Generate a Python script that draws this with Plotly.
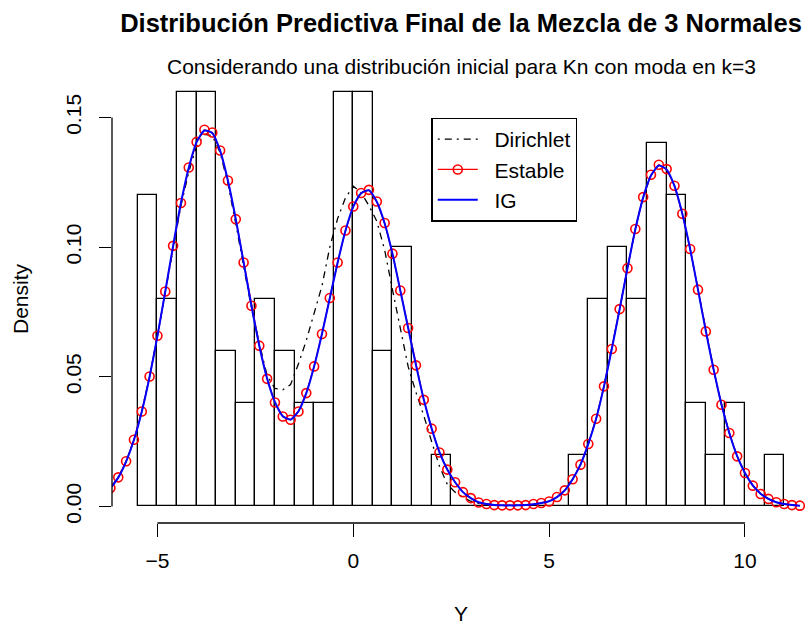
import plotly.graph_objects as go

# ---------------- data ----------------
breaks = [-5.5, -5.0, -4.5, -4.0, -3.5, -3.0, -2.5, -2.0, -1.5, -1.0, -0.5, 0.0,
          0.5, 1.0, 1.5, 2.0, 2.5, 3.0, 3.5, 4.0, 4.5, 5.0, 5.5, 6.0, 6.5, 7.0,
          7.5, 8.0, 8.5, 9.0, 9.5, 10.0, 10.5, 11.0]
hist_density = [0.12, 0.08, 0.16, 0.16, 0.06, 0.04, 0.08, 0.06, 0.04, 0.04, 0.16,
                0.16, 0.06, 0.10, 0.00, 0.02, 0.00, 0.00, 0.00, 0.00, 0.00, 0.00,
                0.02, 0.08, 0.10, 0.08, 0.14, 0.12, 0.04, 0.02, 0.04, 0.00, 0.02]

grid_x = [-6.2, -6.0, -5.8, -5.6, -5.4, -5.2, -5.0, -4.8, -4.6, -4.4, -4.2, -4.0,
          -3.8, -3.6, -3.4, -3.2, -3.0, -2.8, -2.6, -2.4, -2.2, -2.0, -1.8, -1.6,
          -1.4, -1.2, -1.0, -0.8, -0.6, -0.4, -0.2, 0.0, 0.2, 0.4, 0.6, 0.8,
          1.0, 1.2, 1.4, 1.6, 1.8, 2.0, 2.2, 2.4, 2.6, 2.8, 3.0, 3.2,
          3.4, 3.6, 3.8, 4.0, 4.2, 4.4, 4.6, 4.8, 5.0, 5.2, 5.4, 5.6,
          5.8, 6.0, 6.2, 6.4, 6.6, 6.8, 7.0, 7.2, 7.4, 7.6, 7.8, 8.0,
          8.2, 8.4, 8.6, 8.8, 9.0, 9.2, 9.4, 9.6, 9.8, 10.0, 10.2, 10.4,
          10.6, 10.8, 11.0, 11.2, 11.4]

estable = [0.0071, 0.0112, 0.0174, 0.0257, 0.0366, 0.0501, 0.0658, 0.0829, 0.1005, 0.1170, 0.1307, 0.1406,
           0.1453, 0.1442, 0.1373, 0.1257, 0.1108, 0.0941, 0.0774, 0.0620, 0.0492, 0.0401, 0.0347, 0.0334,
           0.0366, 0.0437, 0.0540, 0.0665, 0.0804, 0.0941, 0.1064, 0.1157, 0.1209, 0.1221, 0.1176, 0.1093,
           0.0975, 0.0833, 0.0688, 0.0544, 0.0411, 0.0300, 0.0208, 0.0142, 0.0093, 0.0055, 0.0032, 0.0015,
           0.0009, 0.0005, 0.0004, 0.0004, 0.0004, 0.0005, 0.0009, 0.0013, 0.0019, 0.0036, 0.0062, 0.0105,
           0.0161, 0.0241, 0.0338, 0.0463, 0.0607, 0.0761, 0.0919, 0.1070, 0.1193, 0.1279, 0.1318, 0.1301,
           0.1237, 0.1129, 0.0993, 0.0836, 0.0675, 0.0527, 0.0392, 0.0283, 0.0193, 0.0129, 0.0080, 0.0048,
           0.0029, 0.0016, 0.0009, 0.0005, 0.0003]

ig = [0.0070, 0.0111, 0.0173, 0.0256, 0.0365, 0.0500, 0.0657, 0.0829, 0.1005, 0.1170, 0.1306, 0.1405,
      0.1450, 0.1440, 0.1372, 0.1256, 0.1108, 0.0941, 0.0774, 0.0620, 0.0493, 0.0402, 0.0348, 0.0335,
      0.0367, 0.0437, 0.0540, 0.0665, 0.0803, 0.0940, 0.1063, 0.1156, 0.1208, 0.1219, 0.1175, 0.1092,
      0.0975, 0.0833, 0.0688, 0.0545, 0.0412, 0.0301, 0.0209, 0.0142, 0.0093, 0.0055, 0.0032, 0.0016,
      0.0009, 0.0005, 0.0004, 0.0004, 0.0004, 0.0005, 0.0008, 0.0013, 0.0020, 0.0036, 0.0062, 0.0105,
      0.0161, 0.0241, 0.0338, 0.0463, 0.0607, 0.0761, 0.0918, 0.1068, 0.1191, 0.1276, 0.1315, 0.1299,
      0.1236, 0.1129, 0.0993, 0.0836, 0.0676, 0.0528, 0.0393, 0.0283, 0.0194, 0.0129, 0.0081, 0.0049,
      0.0029, 0.0016, 0.0009, 0.0005, 0.0003]

dirichlet = [0.0071, 0.0112, 0.0174, 0.0257, 0.0366, 0.0501, 0.0658, 0.0829, 0.1000, 0.1160, 0.1290, 0.1390,
             0.1435, 0.1430, 0.1365, 0.1245, 0.1090, 0.0925, 0.0765, 0.0630, 0.0505, 0.0455, 0.0450, 0.0470,
             0.0550, 0.0640, 0.0740, 0.0850, 0.1000, 0.1110, 0.1190, 0.1235, 0.1210, 0.1160, 0.1100, 0.0990,
             0.0836, 0.0690, 0.0540, 0.0440, 0.0350, 0.0250, 0.0155, 0.0085, 0.0055, 0.0035, 0.0020, 0.0012,
             0.0008, 0.0005, 0.0004, 0.0004, 0.0004, 0.0005, 0.0009, 0.0013, 0.0019, 0.0036, 0.0062, 0.0105,
             0.0161, 0.0241, 0.0338, 0.0463, 0.0607, 0.0761, 0.0919, 0.1070, 0.1193, 0.1279, 0.1318, 0.1301,
             0.1237, 0.1129, 0.0993, 0.0836, 0.0675, 0.0527, 0.0392, 0.0283, 0.0193, 0.0129, 0.0080, 0.0048,
             0.0029, 0.0016, 0.0009, 0.0005, 0.0003]

x_ticks = [-5, 0, 5, 10]
x_ticklabels = ["\u22125", "0", "5", "10"]
y_ticks = [0.0, 0.05, 0.10, 0.15]
y_ticklabels = ["0.00", "0.05", "0.10", "0.15"]

series_names = ["Dirichlet", "Estable", "IG"]
title = "Distribución Predictiva Final de la Mezcla de 3 Normales"
subtitle = "Considerando una distribución inicial para Kn con moda en k=3"

# ---------------- figure ----------------
FONT = "Liberation Sans, Arial, Helvetica, sans-serif"
PAD = "\u00a0\u00a0"
bin_centers = [(a + b) / 2 for a, b in zip(breaks[:-1], breaks[1:])]
bin_widths = [b - a for a, b in zip(breaks[:-1], breaks[1:])]

fig = go.Figure()
fig.add_trace(go.Bar(
    x=bin_centers, y=hist_density, width=bin_widths,
    marker=dict(color="rgba(0,0,0,0)", line=dict(color="black", width=1.3)),
    showlegend=False, hoverinfo="skip",
))
fig.add_trace(go.Scatter(
    x=grid_x, y=dirichlet, mode="lines", name=PAD + series_names[0],
    line=dict(color="black", width=1.3, dash="2px,5px,7px,5px"),
))
fig.add_trace(go.Scatter(
    x=grid_x, y=estable, mode="lines+markers", name=PAD + series_names[1],
    line=dict(color="red", width=1.3),
    marker=dict(symbol="circle-open", size=9, color="red", line=dict(width=1.6, color="red")),
    cliponaxis=True,
))
fig.add_trace(go.Scatter(
    x=grid_x, y=ig, mode="lines", name=PAD + series_names[2],
    line=dict(color="blue", width=2, shape="spline", smoothing=0.6),
))

X_RANGE = [-6.16, 11.66]
Y_RANGE = [-0.0064, 0.1664]

fig.update_xaxes(
    range=X_RANGE, showgrid=False, zeroline=False, showline=False,
    tickmode="array", tickvals=x_ticks, ticktext=x_ticklabels,
    ticks="outside", ticklen=13, tickwidth=1.3, tickcolor="black",
    tickfont=dict(family=FONT, size=21, color="black"),
    ticklabelstandoff=6,
)
fig.update_yaxes(
    range=Y_RANGE, showgrid=False, zeroline=False, showline=False,
    tickmode="array", tickvals=y_ticks, ticktext=y_ticklabels,
    ticks="outside", ticklen=12, tickwidth=1.3, tickcolor="black",
    tickangle=-90, tickfont=dict(family=FONT, size=21, color="black"),
    ticklabelstandoff=10,
)

# R-style partial axis lines
fig.add_shape(type="line", xref="x", yref="paper", x0=x_ticks[0], x1=x_ticks[-1], y0=0, y1=0,
              line=dict(color="black", width=1.3))
fig.add_shape(type="line", xref="paper", yref="y", x0=0, x1=0, y0=y_ticks[0], y1=y_ticks[-1],
              line=dict(color="black", width=1.3))

fig.add_annotation(text="Y", xref="paper", yref="paper", x=0.5, y=0, yanchor="middle",
                   yshift=-90, showarrow=False, font=dict(family=FONT, size=21, color="black"))
fig.add_annotation(text="Density", xref="paper", yref="paper", x=0, y=0.5, xanchor="center",
                   xshift=-92, textangle=-90, showarrow=False,
                   font=dict(family=FONT, size=21, color="black"))
fig.add_annotation(text=subtitle, xref="paper", yref="paper", x=0.5, y=1, yanchor="middle",
                   yshift=75 - 66.7, showarrow=False, font=dict(family=FONT, size=21, color="black"))

fig.update_layout(
    width=810, height=624, autosize=False,
    margin=dict(l=112, r=0, t=75, b=101, pad=0),
    paper_bgcolor="white", plot_bgcolor="white",
    title=dict(text="<b>" + title + "</b>", x=0.5, xref="paper", y=1 - 23 / 624, yanchor="middle",
               font=dict(family=FONT, size=25.5, color="black")),
    bargap=0,
    legend=dict(x=0.4577, y=0.9047, xanchor="left", yanchor="top",
                bgcolor="white", bordercolor="black", borderwidth=1.3,
                font=dict(family=FONT, size=21, color="black"),
                tracegroupgap=0, itemwidth=40),
    showlegend=True,
)

fig.write_html("out.html")
